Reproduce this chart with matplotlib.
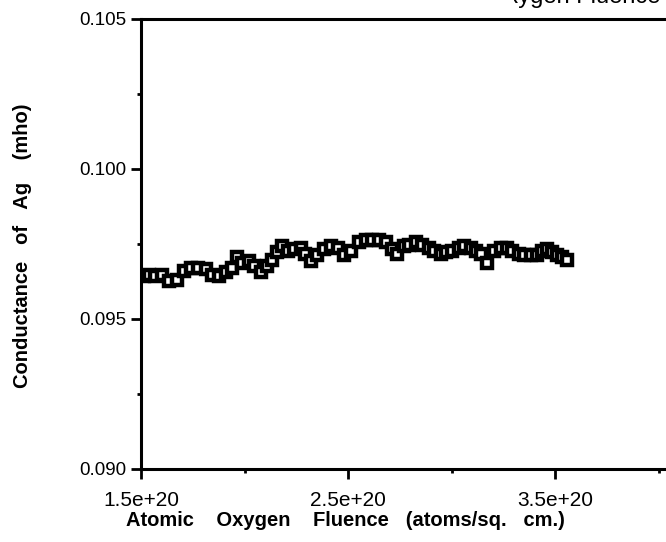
import numpy as np
import matplotlib
matplotlib.use("Agg")
import matplotlib.pyplot as plt
from matplotlib.ticker import MultipleLocator, FuncFormatter
from matplotlib.transforms import Bbox

# ── Data (fluence in 1e20 atoms/cm^2, conductance in mho) ─────────────────────
fluence = [
    1.515, 1.539, 1.568, 1.601, 1.635, 1.674, 1.708, 1.742, 1.776, 1.814,
    1.843, 1.877, 1.911, 1.940, 1.964, 1.988, 2.022, 2.046, 2.080, 2.109,
    2.133, 2.157, 2.181, 2.210, 2.239, 2.273, 2.292, 2.321, 2.350, 2.384,
    2.418, 2.452, 2.481, 2.514, 2.553, 2.587, 2.616, 2.650, 2.684, 2.713,
    2.737, 2.771, 2.795, 2.829, 2.857, 2.891, 2.915, 2.949, 2.973, 3.002,
    3.036, 3.060, 3.094, 3.118, 3.143, 3.171, 3.205, 3.239, 3.268, 3.292,
    3.326, 3.350, 3.384, 3.413, 3.437, 3.461, 3.485, 3.510, 3.534, 3.558,
]
conductance = [
    0.09645, 0.09648, 0.09645, 0.09648, 0.09628, 0.09631, 0.09661, 0.09671, 0.09671, 0.09668,
    0.09648, 0.09645, 0.09655, 0.09671, 0.09705, 0.09688, 0.09695, 0.09678, 0.09655, 0.09678,
    0.09698, 0.09722, 0.09745, 0.09728, 0.09732, 0.09738, 0.09715, 0.09695, 0.09712, 0.09732,
    0.09745, 0.09738, 0.09712, 0.09728, 0.09755, 0.09762, 0.09762, 0.09762, 0.09755, 0.09732,
    0.09715, 0.09745, 0.09748, 0.09755, 0.09748, 0.09738, 0.09728, 0.09715, 0.09722, 0.09728,
    0.09738, 0.09745, 0.09738, 0.09725, 0.09715, 0.09688, 0.09728, 0.09738, 0.09735, 0.09728,
    0.09718, 0.09712, 0.09712, 0.09712, 0.09725, 0.09732, 0.09722, 0.09712, 0.09705, 0.09698,
]

x_ticks = [1.5, 2.5, 3.5]
y_ticks = [0.090, 0.095, 0.100, 0.105]

plt.rcParams["font.family"] = ["Liberation Sans", "DejaVu Sans"]

W, H = 666, 542

# ── Figure ────────────────────────────────────────────────────────────────────
fig = plt.figure(figsize=(W / 100, H / 100), dpi=100)
ax = fig.add_axes([141 / W, 1 - 469 / H, 525 / W, 450 / H])

ax.plot(fluence, conductance, linestyle="none", marker="s", markersize=6.6,
        markerfacecolor="white", markeredgecolor="black", markeredgewidth=3.2)

ax.set_xlim(1.5, 1.5 + 525 / 207)
ax.set_ylim(0.090, 0.105)

ax.set_xticks(x_ticks)
ax.xaxis.set_minor_locator(MultipleLocator(0.5))
ax.xaxis.set_major_formatter(FuncFormatter(lambda v, p: f"{v:.1f}e+20"))
ax.set_yticks(y_ticks)
ax.yaxis.set_minor_locator(MultipleLocator(0.0025))
ax.yaxis.set_major_formatter(FuncFormatter(lambda v, p: f"{v:.3f}"))

ax.tick_params(which="major", direction="out", length=7, width=2)
ax.tick_params(which="minor", direction="out", length=3, width=2)
ax.tick_params(axis="x", which="major", labelsize=15, pad=9)
ax.tick_params(axis="y", which="major", labelsize=13.5, pad=3.5)

ax.spines["right"].set_visible(False)
for side in ("left", "bottom", "top"):
    ax.spines[side].set_linewidth(2.2)

# axis titles (spaced out like the original print)
fig.text(345 / W, 1 - 521 / H, "Atomic    Oxygen    Fluence   (atoms/sq.   cm.)",
         fontsize=14.5, fontweight="bold", ha="center", va="center")
fig.text(23 / W, 1 - 246 / H, "Conductance   of   Ag    (mho)",
         fontsize=14.5, fontweight="bold", ha="center", va="center",
         rotation=90)

# title cut off by the top edge of the scanned page
title = fig.text(409 / W, 1 - 3 / H, "Atomic Oxygen Fluence", fontsize=17,
                 ha="left", va="baseline")
title.set_clip_box(Bbox.from_extents(514, 0, W, H))

fig.savefig("out.png", dpi=100, facecolor="white")
plt.close(fig)
